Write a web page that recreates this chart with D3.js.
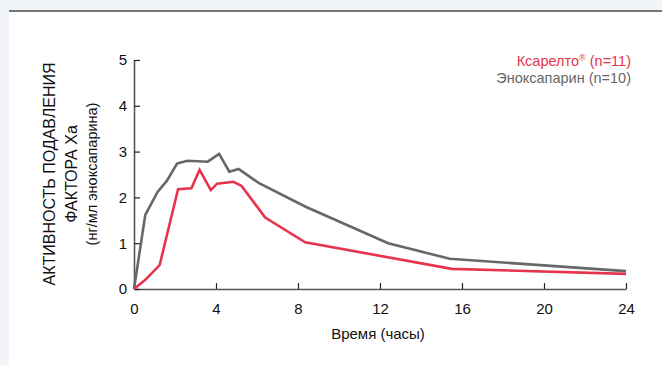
<!DOCTYPE html>
<html>
<head>
<meta charset="utf-8">
<script src="https://cdn.jsdelivr.net/npm/d3@7"></script>
<style>
  body { margin: 0; background: #f1f4f9; }
  svg { display: block; font-family: "Liberation Sans", Arial, sans-serif; }
</style>
</head>
<body>
<div id="chart"></div>
<script>
// hours after dose
var xareltoHours = [0, 0.55, 1.25, 2.15, 2.8, 3.2, 3.75, 4.05, 4.85, 5.25, 6.4, 8.35, 15.5, 24];
var xareltoValues = [0, 0.2, 0.52, 2.18, 2.2, 2.6, 2.16, 2.3, 2.34, 2.25, 1.56, 1.02, 0.44, 0.33];
var enoxHours = [0, 0.55, 1.15, 1.6, 2.1, 2.6, 3.6, 4.15, 4.65, 5.1, 6.1, 8.4, 12.4, 15.4, 24];
var enoxValues = [0, 1.62, 2.12, 2.36, 2.74, 2.8, 2.78, 2.95, 2.56, 2.62, 2.31, 1.79, 1.0, 0.66, 0.39];
var xTicks = [0, 4, 8, 12, 16, 20, 24];
var yTicks = [0, 1, 2, 3, 4, 5];

var W = 662, H = 365;
var margin = {top: 60, right: 36, bottom: 76, left: 134};
var width = W - margin.left - margin.right, height = H - margin.top - margin.bottom;

var svg = d3.select("#chart").append("svg").attr("width", W).attr("height", H);

// white panel with grey top border
svg.append("rect").attr("x", 9).attr("y", 10).attr("width", W - 9).attr("height", H - 10).attr("fill", "#fff");
svg.append("rect").attr("x", 9).attr("y", 10).attr("width", W - 9).attr("height", 2).attr("fill", "#777");

var g = svg.append("g").attr("transform", "translate(" + margin.left + "," + margin.top + ")");

var x = d3.scaleLinear().domain([0, 24]).range([0, width]);
var y = d3.scaleLinear().domain([0, 5]).range([height, 0]);

var xAxis = g.append("g").attr("transform", "translate(0," + height + ")")
  .call(d3.axisBottom(x).tickValues(xTicks).tickFormat(d3.format("d")).tickSizeInner(-6).tickSizeOuter(0).tickPadding(14));
var yAxis = g.append("g")
  .call(d3.axisLeft(y).tickValues(yTicks).tickFormat(d3.format("d")).tickSizeInner(-6).tickSizeOuter(0).tickPadding(7));

[xAxis, yAxis].forEach(function(a) {
  a.attr("font-size", 15).attr("font-family", null);
  a.select(".domain").attr("stroke", "#555").attr("stroke-width", 1.6);
  a.selectAll(".tick line").attr("stroke", "#222").attr("stroke-width", 1.2);
  a.selectAll(".tick text").attr("fill", "#111");
});

var line = d3.line().x(function(d) { return x(d[0]); }).y(function(d) { return y(d[1]); });

g.append("path").datum(d3.zip(enoxHours, enoxValues)).attr("d", line)
  .attr("fill", "none").attr("stroke", "#676767").attr("stroke-width", 2.6);
g.append("path").datum(d3.zip(xareltoHours, xareltoValues)).attr("d", line)
  .attr("fill", "none").attr("stroke", "#e5344c").attr("stroke-width", 2.6);

// legend
var legend = svg.append("g").attr("text-anchor", "end").attr("font-size", 14.5);
var l1 = legend.append("text").attr("x", 631).attr("y", 66).attr("fill", "#e5344c");
l1.append("tspan").text("Ксарелто");
l1.append("tspan").attr("font-size", 9).attr("dy", -5).text("®");
l1.append("tspan").attr("dy", 5).text(" (n=11)");
legend.append("text").attr("x", 631).attr("y", 82.5).attr("fill", "#676767").text("Эноксапарин (n=10)");

// x title
svg.append("text").attr("x", margin.left + width / 2 - 2).attr("y", 339).attr("text-anchor", "middle")
  .attr("font-size", 15).attr("fill", "#111").text("Время (часы)");

// y title
var yt = svg.append("g").attr("transform", "translate(0,174) rotate(-90)").attr("text-anchor", "middle").attr("fill", "#111");
yt.append("text").attr("x", 0).attr("y", 55).attr("font-size", 16).text("АКТИВНОСТЬ ПОДАВЛЕНИЯ");
yt.append("text").attr("x", 0).attr("y", 77).attr("font-size", 16).text("ФАКТОРА Xa");
yt.append("text").attr("x", 0).attr("y", 97).attr("font-size", 14.5).text("(нг/мл эноксапарина)");
</script>
</body>
</html>
